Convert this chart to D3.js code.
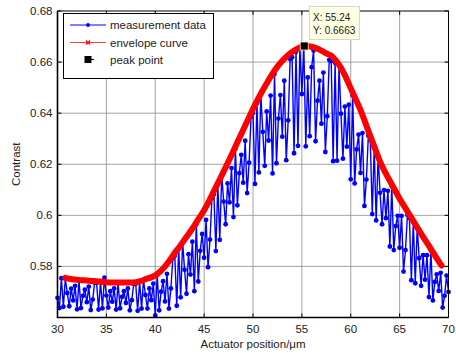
<!DOCTYPE html>
<html>
<head>
<meta charset="utf-8">
<script src="https://cdn.jsdelivr.net/npm/d3@7/dist/d3.min.js"></script>
<style>
  body { margin: 0; background: #fff; }
  text { font-family: "Liberation Sans", Arial, sans-serif; }
</style>
</head>
<body>
<svg id="chart" width="456" height="353"></svg>
<script>
// measurement samples, one every 0.2 um starting at 30 um
const xStart = 30;
const xStep = 0.2;
const measured = [
  0.5677, 0.5637, 0.5754, 0.5642, 0.5752, 0.5696, 0.5644, 0.5713, 0.5667, 0.5724,
  0.5632, 0.5744, 0.5637, 0.5685, 0.5709, 0.5660, 0.5721, 0.5629, 0.5670, 0.5736,
  0.5736, 0.5631, 0.5738, 0.5636, 0.5756, 0.5686, 0.5639, 0.5703, 0.5662, 0.5714,
  0.5631, 0.5734, 0.5636, 0.5681, 0.5703, 0.5657, 0.5714, 0.5628, 0.5668, 0.5731,
  0.5732, 0.5626, 0.5741, 0.5635, 0.5746, 0.5688, 0.5635, 0.5714, 0.5668, 0.5733,
  0.5608, 0.5766, 0.5628, 0.5701, 0.5742, 0.5663, 0.5771, 0.5635, 0.5714, 0.5832,
  0.5842, 0.5646, 0.5869, 0.5679, 0.5895, 0.5787, 0.5693, 0.5848, 0.5768, 0.5897,
  0.5703, 0.5964, 0.5741, 0.5861, 0.5927, 0.5834, 0.5982, 0.5797, 0.5905, 0.6067,
  0.6082, 0.5860, 0.6121, 0.5904, 0.6157, 0.6054, 0.5965, 0.6125, 0.6051, 0.6185,
  0.5993, 0.6261, 0.6039, 0.6165, 0.6237, 0.6128, 0.6292, 0.6087, 0.6206, 0.6386,
  0.6401, 0.6123, 0.6439, 0.6168, 0.6475, 0.6327, 0.6194, 0.6407, 0.6293, 0.6469,
  0.6164, 0.6553, 0.6204, 0.6379, 0.6471, 0.6308, 0.6527, 0.6216, 0.6372, 0.6612,
  0.6619, 0.6243, 0.6640, 0.6272, 0.6656, 0.6475, 0.6663, 0.6270, 0.6540, 0.6310,
  0.6580, 0.6645, 0.6290, 0.6449, 0.6527, 0.6359, 0.6559, 0.6248, 0.6388, 0.6609,
  0.6604, 0.6212, 0.6597, 0.6214, 0.6587, 0.6398, 0.6222, 0.6426, 0.6269, 0.6433,
  0.6141, 0.6469, 0.6125, 0.6258, 0.6316, 0.6166, 0.6322, 0.6037, 0.6140, 0.6312,
  0.6295, 0.6005, 0.6264, 0.5980, 0.6230, 0.6088, 0.5965, 0.6099, 0.5989, 0.6096,
  0.5878, 0.6113, 0.5864, 0.5958, 0.5998, 0.5873, 0.5998, 0.5780, 0.5864, 0.6001,
  0.5990, 0.5746, 0.5973, 0.5734, 0.5953, 0.5832, 0.5724, 0.5844, 0.5748, 0.5844,
  0.5680, 0.5862, 0.5667, 0.5739, 0.5769, 0.5704, 0.5775, 0.5639, 0.5685, 0.5764,
  0.5700
];

// upper envelope
const envX = [30.8, 31, 31.5, 32, 32.5, 33, 33.5, 34, 34.5, 35, 35.5, 36, 36.5, 37, 37.5,
  38, 38.5, 39, 39.5, 40, 40.5, 41, 41.5, 42, 42.5, 43, 43.5, 44, 44.5, 45, 45.5,
  46, 46.5, 47, 47.5, 48, 48.5, 49, 49.5, 50, 50.5, 51, 51.5, 52, 52.5, 53, 53.5,
  54, 54.5, 55, 55.5, 56, 56.5, 57, 57.5, 58, 58.5, 59, 59.5, 60, 60.5, 61, 61.5,
  62, 62.5, 63, 63.5, 64, 64.5, 65, 65.5, 66, 66.5, 67, 67.5, 68, 68.5, 69, 69.3];
const envY = [0.5755, 0.5753, 0.5750, 0.5748, 0.5746, 0.5745, 0.5743, 0.5742, 0.5740, 0.5738,
  0.5737, 0.5737, 0.5737, 0.5737, 0.5737, 0.5738, 0.5742, 0.5750, 0.5756, 0.5765,
  0.5780, 0.5800, 0.5825, 0.5853, 0.5878, 0.5905, 0.5932, 0.5960, 0.5990, 0.6020,
  0.6056, 0.6095, 0.6133, 0.6172, 0.6212, 0.6253, 0.6294, 0.6335, 0.6376, 0.6417,
  0.6455, 0.6490, 0.6523, 0.6555, 0.6582, 0.6605, 0.6624, 0.6640, 0.6652, 0.6660,
  0.6663, 0.6660, 0.6654, 0.6645, 0.6634, 0.6625, 0.6605, 0.6578, 0.6540, 0.6497,
  0.6455, 0.6412, 0.6362, 0.6310, 0.6260, 0.6210, 0.6170, 0.6135, 0.6100, 0.6065,
  0.6034, 0.6003, 0.5972, 0.5940, 0.5910, 0.5880, 0.5850, 0.5820, 0.5803];

const peak = { x: 55.24, y: 0.6663 };

const xTicks = [30, 35, 40, 45, 50, 55, 60, 65, 70];
const yTicks = [0.56, 0.58, 0.6, 0.62, 0.64, 0.66, 0.68];
const yLabels = ["", "0.58", "0.6", "0.62", "0.64", "0.66", "0.68"];
const legendLabels = ["measurement data", "envelope curve", "peak point"];

const plotLeft = 57.5, plotRight = 448.5, plotTop = 11, plotBottom = 317.5;

const svg = d3.select("#chart");

const x = d3.scaleLinear().domain([30, 70]).range([plotLeft, plotRight]);
const y = d3.scaleLinear().domain([0.56, 0.68]).range([plotBottom, plotTop]);

const points = measured.map((v, i) => ({ x: xStart + i * xStep, y: v }));
const envelope = envX.map((v, i) => ({ x: v, y: envY[i] }));

// grid
const grid = svg.append("g").attr("stroke", "#8c8c8c").attr("stroke-width", 0.8);
grid.selectAll("line.gx")
  .data(xTicks.slice(1, -1))
  .join("line")
  .attr("x1", d => x(d)).attr("x2", d => x(d))
  .attr("y1", plotTop).attr("y2", plotBottom);
grid.selectAll("line.gy")
  .data(yTicks.slice(1, -1))
  .join("line")
  .attr("x1", plotLeft).attr("x2", plotRight)
  .attr("y1", d => y(d)).attr("y2", d => y(d));

// measurement data
svg.append("path")
  .datum(points)
  .attr("fill", "none")
  .attr("stroke", "#0000ff")
  .attr("stroke-width", 1.4)
  .attr("d", d3.line().x(d => x(d.x)).y(d => y(d.y)));

svg.append("g")
  .attr("fill", "#0000ff")
  .selectAll("circle")
  .data(points)
  .join("circle")
  .attr("cx", d => x(d.x))
  .attr("cy", d => y(d.y))
  .attr("r", 2.4);

// envelope curve
svg.append("path")
  .datum(envelope)
  .attr("fill", "none")
  .attr("stroke", "#ff0000")
  .attr("stroke-width", 6)
  .attr("stroke-linecap", "round")
  .attr("stroke-linejoin", "round")
  .attr("d", d3.line().curve(d3.curveCatmullRom).x(d => x(d.x)).y(d => y(d.y)));

// peak point
svg.append("rect")
  .attr("x", x(peak.x) - 4).attr("y", y(peak.y) - 4)
  .attr("width", 8).attr("height", 8)
  .attr("fill", "#000")
  .attr("stroke", "#f2eecb").attr("stroke-width", 0.8);

// axes box
svg.append("rect")
  .attr("x", plotLeft).attr("y", plotTop)
  .attr("width", plotRight - plotLeft).attr("height", plotBottom - plotTop)
  .attr("fill", "none").attr("stroke", "#000").attr("stroke-width", 1);
svg.append("path")
  .attr("d", `M${plotLeft},${plotTop}V${plotBottom}H${plotRight}`)
  .attr("fill", "none").attr("stroke", "#000").attr("stroke-width", 1.6);

// ticks, drawn inward on all sides
const ticks = svg.append("g").attr("stroke", "#000").attr("stroke-width", 1);
xTicks.forEach(t => {
  ticks.append("line").attr("x1", x(t)).attr("x2", x(t)).attr("y1", plotBottom).attr("y2", plotBottom - 4);
  ticks.append("line").attr("x1", x(t)).attr("x2", x(t)).attr("y1", plotTop).attr("y2", plotTop + 4);
});
yTicks.forEach(t => {
  ticks.append("line").attr("x1", plotLeft).attr("x2", plotLeft + 4).attr("y1", y(t)).attr("y2", y(t));
  ticks.append("line").attr("x1", plotRight).attr("x2", plotRight - 4).attr("y1", y(t)).attr("y2", y(t));
});

svg.append("g").selectAll("text")
  .data(xTicks)
  .join("text")
  .attr("x", d => x(d))
  .attr("y", plotBottom + 15)
  .attr("text-anchor", "middle")
  .attr("font-size", 11.5)
  .attr("fill", "#222")
  .text(d => d);

svg.append("g").selectAll("text")
  .data(yTicks)
  .join("text")
  .attr("x", plotLeft - 5)
  .attr("y", d => y(d) + 4)
  .attr("text-anchor", "end")
  .attr("font-size", 11.5)
  .attr("fill", "#222")
  .text((d, i) => yLabels[i]);

svg.append("text")
  .attr("x", (plotLeft + plotRight) / 2)
  .attr("y", 348)
  .attr("text-anchor", "middle")
  .attr("font-size", 11.5)
  .attr("fill", "#222")
  .text("Actuator position/\u03bcm");

svg.append("text")
  .attr("transform", `translate(20,${(plotTop + plotBottom) / 2}) rotate(-90)`)
  .attr("text-anchor", "middle")
  .attr("font-size", 11.5)
  .attr("fill", "#222")
  .text("Contrast");

// legend
const lg = svg.append("g");
lg.append("rect")
  .attr("x", 63.5).attr("y", 13.5).attr("width", 150).attr("height", 65)
  .attr("fill", "#fff").attr("stroke", "#000").attr("stroke-width", 1);
const rowY = [25, 42.5, 59.5];
lg.selectAll("text")
  .data(legendLabels)
  .join("text")
  .attr("x", 110)
  .attr("y", (d, i) => rowY[i] + 4)
  .attr("font-size", 11.5)
  .attr("fill", "#222")
  .text(d => d);
lg.append("line").attr("x1", 70).attr("x2", 106).attr("y1", rowY[0]).attr("y2", rowY[0])
  .attr("stroke", "#0000ff").attr("stroke-width", 1);
lg.append("circle").attr("cx", 88).attr("cy", rowY[0]).attr("r", 2).attr("fill", "#0000ff");
lg.append("line").attr("x1", 70).attr("x2", 106).attr("y1", rowY[1]).attr("y2", rowY[1])
  .attr("stroke", "#ff4040").attr("stroke-width", 1.2);
lg.append("path")
  .attr("d", `M86,${rowY[1] - 2}l4,4M90,${rowY[1] - 2}l-4,4`)
  .attr("stroke", "#ff0000").attr("stroke-width", 1.2);
lg.append("rect").attr("x", 84.5).attr("y", rowY[2] - 3.5).attr("width", 7).attr("height", 7).attr("fill", "#000");
lg.append("line").attr("x1", 91).attr("x2", 94).attr("y1", rowY[2]).attr("y2", rowY[2])
  .attr("stroke", "#000").attr("stroke-width", 1);

// data tip
const tip = svg.append("g");
tip.append("rect")
  .attr("x", 309.5).attr("y", 6.5).attr("width", 50).attr("height", 33)
  .attr("fill", "#ffffe1").attr("stroke", "#d8d8c8").attr("stroke-width", 1);
tip.append("text").attr("x", 313).attr("y", 21).attr("font-size", 10).attr("fill", "#222")
  .text("X: " + peak.x);
tip.append("text").attr("x", 313).attr("y", 34).attr("font-size", 10).attr("fill", "#222")
  .text("Y: " + peak.y);
</script>
</body>
</html>
